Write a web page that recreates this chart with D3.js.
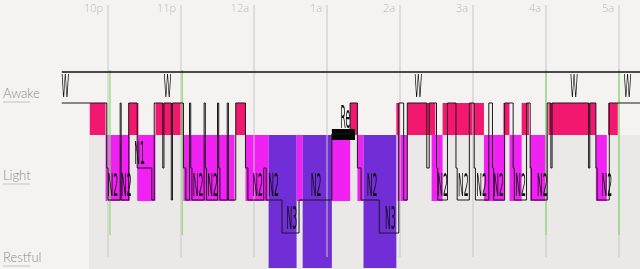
<!DOCTYPE html>
<html>
<head>
<meta charset="utf-8">
<script src="https://cdn.jsdelivr.net/npm/d3@7"></script>
<style>
  body { margin: 0; background: #f5f3f2; }
  svg { display: block; }
</style>
</head>
<body>
<div id="chart"></div>
<script>
// minutes after 10pm
const hourTicks = ["10p", "11p", "12a", "1a", "2a", "3a", "4a", "5a"];
const hourMinutes = [0, 60, 120, 180, 240, 300, 360, 420];
const markerMinutes = [1.6, 61, 360, 420];

const wakeBars = [[-15, -2], [17, 25], [39, 62], [105, 113], [199, 205], [237, 240], [246, 269],
  [275, 309], [325, 330], [340, 346], [362, 401], [411, 419]];
const lightBars = [[-2, 18], [24, 39], [62, 104], [113, 132], [155, 160], [184, 199], [205, 210],
  [238, 246], [266, 275], [309, 326], [330, 340], [347, 361], [401, 410]];
const deepBars = [[132, 155], [160, 184], [210, 237]];
const remBars = [[184, 203]];

// hypnogram steps: [start minute, stage]
const hypno = [[-38, "W"], [-1, "N1"], [0, "N2"], [10, "W"], [10.8, "N2"], [17, "W"],
  [24, "N1"], [36, "N2"], [38, "W"], [45, "N1"], [46, "W"], [52, "N2"], [53, "W"],
  [62, "N1"], [64, "N2"], [67, "W"], [68, "N1"], [69, "N2"], [79, "W"], [80, "N1"], [81, "N2"],
  [90, "W"], [91, "N1"], [92, "N2"], [98, "W"], [99, "N2"], [105, "W"], [113, "N1"], [115, "N2"],
  [128, "N1"], [130, "N2"], [143, "N3"], [157, "N2"], [184, "R"], [199, "W"], [205, "N1"],
  [208, "N2"], [223, "N3"], [239, "W"], [243, "N2"], [246, "W"], [262, "N1"], [264, "W"],
  [270, "N1"], [271, "N2"], [279, "W"], [286, "N1"], [287, "N2"], [297, "W"], [301, "N1"],
  [302, "N2"], [313, "W"], [316, "N1"], [317, "N2"], [326, "W"], [333, "N1"], [334, "N2"],
  [344, "W"], [347, "N1"], [348, "N2"], [361, "W"], [364, "N1"], [365, "W"], [395, "N1"],
  [396, "W"], [401, "N1"], [402, "N2"], [412, "W"], [444, "W"]];

const stageLabels = [[4, "N2"], [15, "N2"], [26, "N1"], [74, "N2"], [86, "N2"], [123, "N2"],
  [136, "N2"], [151, "N3"], [171, "N2"], [217, "N2"], [232, "N3"], [275, "N2"], [292, "N2"],
  [307, "N2"], [321, "N2"], [339, "N2"], [357, "N2"], [410, "N2"], [195, "Re"]];
const wakeLabels = [-35, 49, 255, 383, 427];

const rowNames = ["Awake", "Light", "Restful"];

const width = 640, height = 269;

const svg = d3.select("#chart").append("svg")
  .attr("width", width)
  .attr("height", height);

const x = d3.scaleLinear().domain([0, 420]).range([108, 619]);
const stageY = d3.scaleOrdinal()
  .domain(["W", "R", "N1", "N2", "N3"])
  .range([103, 134, 168, 200, 233]);
const labelY = d3.scaleOrdinal()
  .domain(["N1", "N2", "N3", "Re"])
  .range([164, 196, 229, 128]);
const rowY = d3.scalePoint().domain(rowNames).range([98, 262]);

// gray panel behind the sleep bands
svg.append("rect")
  .attr("x", 89).attr("y", 135)
  .attr("width", width - 89).attr("height", height - 135)
  .attr("fill", "#ebe9e8");

// coloured bars
function bars(data, y0, y1, color) {
  svg.append("g").selectAll("rect")
    .data(data).enter()
    .append("rect")
    .attr("x", d => x(d[0]))
    .attr("width", d => x(d[1]) - x(d[0]))
    .attr("y", y0)
    .attr("height", y1 - y0)
    .attr("fill", color);
}
bars(wakeBars, 103, 135, "#f2186f");
bars(lightBars, 135, 201, "#f021f2");
bars(deepBars, 135, 268, "#712dd6");

// hour grid
const grid = svg.append("g").attr("opacity", 0.99);
grid.selectAll("line")
  .data(hourMinutes).enter()
  .append("line")
  .attr("x1", d => x(d)).attr("x2", d => x(d))
  .attr("y1", 5).attr("y2", 257)
  .attr("stroke", "#c9c6c5")
  .attr("stroke-width", 1);
grid.selectAll("text")
  .data(hourTicks).enter()
  .append("text")
  .attr("x", (d, i) => x(hourMinutes[i]) - 5)
  .attr("y", 12)
  .attr("text-anchor", "end")
  .style("font", "300 11px 'Open Sans', sans-serif")
  .attr("fill", "#bdb9b8")
  .text(d => d);

// green markers
svg.append("g").selectAll("line")
  .data(markerMinutes).enter()
  .append("line")
  .attr("x1", d => x(d)).attr("x2", d => x(d))
  .attr("y1", 70).attr("y2", 235)
  .attr("stroke", "#86dc6c")
  .attr("stroke-width", 1.2);

// row labels
const rows = svg.append("g").attr("opacity", 0.99);
rows.selectAll("text")
  .data(rowNames).enter()
  .append("text")
  .attr("x", 3)
  .attr("y", d => rowY(d))
  .style("font", "300 13px Lato, sans-serif")
  .attr("fill", "#8e8a89")
  .text(d => d);
rows.selectAll("line")
  .data(rowNames).enter()
  .append("line")
  .attr("x1", 3).attr("x2", 30)
  .attr("y1", d => rowY(d) + 4).attr("y2", d => rowY(d) + 4)
  .attr("stroke", "#c6c2c1");

// top awake line
svg.append("line")
  .attr("x1", x(-38)).attr("x2", width)
  .attr("y1", 72).attr("y2", 72)
  .attr("stroke", "#111")
  .attr("stroke-width", 1.6);

// REM bar
svg.append("g").selectAll("rect")
  .data(remBars).enter()
  .append("rect")
  .attr("x", d => x(d[0]))
  .attr("width", d => x(d[1]) - x(d[0]))
  .attr("y", 129).attr("height", 11)
  .attr("fill", "#050505");

// hypnogram step line
const line = d3.line()
  .x(d => x(d[0]))
  .y(d => stageY(d[1]))
  .curve(d3.curveStepAfter);
svg.append("path")
  .attr("d", line(hypno))
  .attr("fill", "none")
  .attr("stroke", "#1a1a1a")
  .attr("stroke-width", 1);

// condensed stage letters
const letters = svg.append("g")
  .attr("opacity", 0.99)
  .style("font", "32px 'DejaVu Sans', sans-serif")
  .attr("fill", "#0d0d0d");
letters.selectAll(".stage")
  .data(stageLabels).enter()
  .append("text")
  .attr("class", "stage")
  .attr("text-anchor", "middle")
  .attr("transform", d => `translate(${x(d[0])},${labelY(d[1])}) scale(0.24,1)`)
  .text(d => d[1]);
letters.selectAll(".wake")
  .data(wakeLabels).enter()
  .append("text")
  .attr("class", "wake")
  .attr("text-anchor", "middle")
  .attr("transform", d => `translate(${x(d)},97) scale(0.24,1)`)
  .text("W");
</script>
</body>
</html>
